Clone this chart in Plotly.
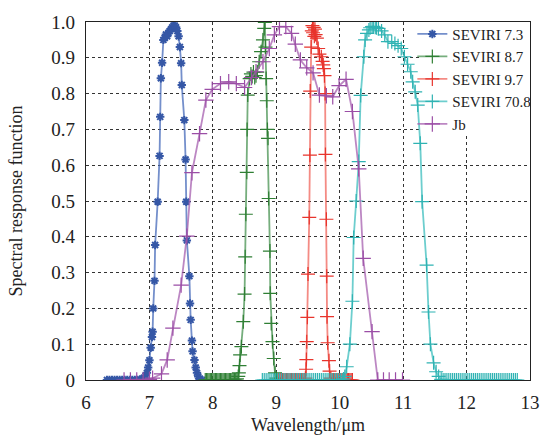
import plotly.graph_objects as go

# Spectral response functions: SEVIRI channels and the Jb band
x_73 = [6.33, 6.37, 6.41, 6.45, 6.49, 6.53, 6.57, 6.61, 6.65, 6.69, 6.73, 6.77, 6.81, 6.85,
        6.88, 6.91, 6.94, 6.96, 6.98, 7.00, 7.02, 7.04, 7.05, 7.06, 7.08, 7.09, 7.13, 7.16,
        7.17, 7.18, 7.20, 7.22, 7.24, 7.26, 7.28, 7.30, 7.32, 7.34, 7.36, 7.38, 7.40, 7.42,
        7.44, 7.46, 7.48, 7.50, 7.51, 7.55, 7.57, 7.58, 7.59, 7.63, 7.64, 7.65, 7.67, 7.68,
        7.71, 7.73, 7.75, 7.77, 7.80, 7.83]
y_73 = [0, 0, 0, 0, 0, 0, 0, 0, 0, 0, 0, 0, 0, 0.001,
        0.003, 0.006, 0.012, 0.02, 0.035, 0.055, 0.09, 0.12, 0.135, 0.2, 0.277, 0.377, 0.498, 0.626,
        0.735, 0.843, 0.886, 0.95, 0.955, 0.965, 0.96, 0.97, 0.975, 0.98, 0.985, 0.99, 0.99, 0.985,
        0.975, 0.96, 0.93, 0.885, 0.824, 0.726, 0.616, 0.498, 0.39, 0.29, 0.214, 0.168, 0.11, 0.08,
        0.056, 0.035, 0.02, 0.01, 0.003, 0]

x_87 = [7.88, 7.90, 7.92, 7.94, 7.96, 7.98, 8.00, 8.02, 8.04, 8.06, 8.08, 8.10, 8.12, 8.14,
        8.16, 8.18, 8.20, 8.22, 8.24, 8.26, 8.28, 8.30, 8.32, 8.34, 8.36, 8.38, 8.40, 8.41,
        8.42, 8.43, 8.45, 8.48, 8.50, 8.51, 8.52, 8.535, 8.54, 8.55, 8.58, 8.60, 8.62, 8.64,
        8.66, 8.68, 8.70, 8.73, 8.76, 8.79, 8.81, 8.82, 8.83, 8.84, 8.85, 8.86, 8.87, 8.88,
        8.90, 8.905, 8.92, 8.94, 8.96, 8.98, 9.00, 9.02]
y_87 = [0, 0, 0, 0, 0, 0, 0, 0, 0, 0, 0, 0, 0, 0,
        0, 0, 0, 0, 0, 0, 0, 0, 0, 0, 0, 0.003, 0.01, 0.02,
        0.04, 0.07, 0.093, 0.163, 0.24, 0.344, 0.463, 0.58, 0.70, 0.796, 0.842, 0.855, 0.848, 0.86,
        0.845, 0.85, 0.86, 0.889, 0.917, 0.95, 0.982, 0.999, 0.93, 0.842, 0.78, 0.70, 0.675, 0.507,
        0.36, 0.242, 0.158, 0.107, 0.06, 0.02, 0.005, 0]

x_97 = [9.04, 9.06, 9.08, 9.10, 9.12, 9.14, 9.16, 9.18, 9.20, 9.22, 9.24, 9.26, 9.28, 9.30,
        9.32, 9.34, 9.36, 9.38, 9.40, 9.42, 9.44, 9.46, 9.47, 9.475, 9.48, 9.49, 9.50, 9.52,
        9.53, 9.535, 9.55, 9.56, 9.57, 9.58, 9.59, 9.60, 9.61, 9.62, 9.64, 9.66, 9.68, 9.71,
        9.73, 9.74, 9.75, 9.76, 9.77, 9.775, 9.79, 9.795, 9.80, 9.81, 9.83, 9.84, 9.86, 9.88,
        9.90, 9.92, 9.94, 9.96, 9.98, 10.00, 10.02, 10.04, 10.06, 10.08, 10.10, 10.12, 10.14,
        10.16, 10.18, 10.20]
y_97 = [0, 0, 0, 0, 0, 0, 0, 0, 0, 0, 0, 0, 0, 0,
        0, 0, 0, 0, 0, 0, 0, 0.005, 0.03, 0.057, 0.107, 0.175, 0.296, 0.454,
        0.628, 0.807, 0.93, 0.975, 0.99, 0.97, 0.985, 0.96, 0.98, 0.965, 0.955, 0.926, 0.91, 0.903,
        0.89, 0.88, 0.87, 0.85, 0.80, 0.63, 0.449, 0.29, 0.177, 0.104, 0.054, 0.025, 0.005, 0,
        0, 0, 0, 0, 0, 0, 0, 0, 0, 0, 0, 0, 0,
        0, 0, 0]

x_708 = [8.78, 8.81, 8.84, 8.87, 8.90, 8.93, 8.96, 8.99, 9.02, 9.05, 9.08, 9.11, 9.14, 9.17,
         9.20, 9.23, 9.26, 9.29, 9.32, 9.35, 9.38, 9.41, 9.44, 9.47, 9.50, 9.53, 9.56, 9.59,
         9.62, 9.65, 9.68, 9.71, 9.74, 9.77, 9.80, 9.83, 9.86, 9.89, 9.92, 9.95, 9.98, 10.01,
         10.04, 10.06, 10.08, 10.11, 10.16, 10.20, 10.22, 10.26, 10.30, 10.33, 10.38, 10.40,
         10.43, 10.46, 10.48, 10.51, 10.53, 10.56, 10.58, 10.61, 10.66, 10.71, 10.76, 10.82,
         10.87, 10.92, 10.97, 11.02, 11.07, 11.12, 11.15, 11.19, 11.23, 11.27, 11.30, 11.37,
         11.40, 11.43, 11.48, 11.52, 11.56, 11.60, 11.63, 11.66, 11.69, 11.72, 11.75, 11.78,
         11.81, 11.84, 11.87, 11.90, 11.93, 11.96, 11.99, 12.02, 12.05, 12.08, 12.11, 12.14,
         12.17, 12.20, 12.23, 12.26, 12.29, 12.32, 12.35, 12.38, 12.41, 12.44, 12.47, 12.50,
         12.53, 12.56, 12.59, 12.62, 12.65, 12.68, 12.71, 12.74, 12.77, 12.80]
y_708 = [0, 0, 0, 0, 0, 0, 0, 0, 0, 0, 0, 0, 0, 0,
         0, 0, 0, 0, 0, 0, 0, 0, 0, 0, 0, 0, 0, 0,
         0, 0, 0, 0, 0, 0, 0, 0, 0, 0, 0, 0, 0, 0,
         0, 0.003, 0.01, 0.037, 0.10, 0.22, 0.398, 0.50, 0.61, 0.795, 0.903, 0.95,
         0.968, 0.978, 0.984, 0.987, 0.988, 0.985, 0.984, 0.982, 0.975, 0.964, 0.945, 0.945,
         0.94, 0.934, 0.926, 0.903, 0.882, 0.861, 0.833, 0.805, 0.768, 0.661, 0.498, 0.321,
         0.19, 0.10, 0.048, 0.023, 0.01, 0.002, 0, 0, 0, 0, 0, 0,
         0, 0, 0, 0, 0, 0, 0, 0, 0, 0, 0, 0,
         0, 0, 0, 0, 0, 0, 0, 0, 0, 0, 0, 0,
         0, 0, 0, 0, 0, 0, 0, 0, 0, 0]

x_jb = [6.60, 6.70, 6.80, 6.90, 7.00, 7.05, 7.19, 7.28, 7.37, 7.50, 7.59, 7.67, 7.79, 7.89,
        7.99, 8.12, 8.25, 8.37, 8.50, 8.61, 8.68, 8.79, 8.89, 8.97, 9.05, 9.15, 9.24, 9.30,
        9.38, 9.48, 9.58, 9.68, 9.79, 9.89, 9.99, 10.10, 10.20, 10.30, 10.37, 10.51, 10.60,
        10.69, 10.78, 10.88, 10.99]
y_jb = [0, 0, 0, 0, 0.002, 0.005, 0.017, 0.056, 0.145, 0.265, 0.402, 0.579, 0.688, 0.782,
        0.812, 0.828, 0.833, 0.828, 0.817, 0.845, 0.861, 0.889, 0.926, 0.964, 0.987, 0.987, 0.968, 0.938,
        0.894, 0.872, 0.858, 0.796, 0.794, 0.791, 0.822, 0.84, 0.75, 0.59, 0.34, 0.135, 0,
        0, 0, 0, 0]

series = [
    ("SEVIRI 7.3", x_73, y_73, "#3557a6", "rgba(70,105,185,0.75)", "asterisk-open", 7, 2),
    ("SEVIRI 8.7", x_87, y_87, "#2f7f34", "rgba(60,140,70,0.7)", "cross-thin-open", 10, 1.2),
    ("SEVIRI 9.7", x_97, y_97, "#e8342c", "rgba(240,90,80,0.7)", "cross-thin-open", 10, 1.2),
    ("SEVIRI 70.8", x_708, y_708, "#2fb3b3", "rgba(60,190,190,0.75)", "cross-thin-open", 10, 1.2),
    ("Jb", x_jb, y_jb, "#9b4ea6", "rgba(165,95,175,0.75)", "cross-thin-open", 11, 1.2),
]

fig = go.Figure()
for name, xs, ys, mcol, lcol, sym, size, mw in series:
    fig.add_trace(go.Scatter(
        x=xs, y=ys, name=name, mode="lines+markers",
        line=dict(color=lcol, width=1.8),
        marker=dict(symbol=sym, size=size, color=mcol, line=dict(color=mcol, width=mw)),
    ))

font = "Liberation Serif"
ytick_vals = [0, 0.1, 0.2, 0.3, 0.4, 0.5, 0.6, 0.7, 0.8, 0.9, 1.0]
ytick_text = ["0", "0.1", "0.2", "0.3", "0.4", "0.5", "0.6", "0.7", "0.8", "0.9", "1.0"]
xtick_vals = [6, 7, 8, 9, 10, 11, 12, 13]

grid = dict(showgrid=True, gridcolor="#333333", gridwidth=1, griddash="3px,3px")

# white panel behind the legend: covers the grid there, curves stay on top
fig.add_shape(type="rect", xref="x", yref="y", x0=11.26, x1=13.0, y0=0.685, y1=1.0,
              fillcolor="white", line=dict(width=0), layer="between")

fig.update_layout(
    width=551, height=445,
    margin=dict(l=86, r=11, t=22, b=65),
    paper_bgcolor="white", plot_bgcolor="white",
    font=dict(family=font, size=19, color="#222222"),
    showlegend=True,
    legend=dict(x=0.735, y=1.012, xanchor="left", yanchor="top",
                bgcolor="rgba(0,0,0,0)", borderwidth=0,
                font=dict(family=font, size=15, color="#222222"),
                tracegroupgap=0, itemwidth=30),
    xaxis=dict(range=[6, 13], tickvals=xtick_vals, ticks="", showline=True,
               linecolor="#222222", linewidth=1.2, mirror=True, zeroline=False,
               ticklabelstandoff=5,
               title=dict(text="Wavelength/μm", font=dict(family=font, size=18), standoff=6),
               **grid),
    yaxis=dict(range=[0, 1.0], tickvals=ytick_vals, ticktext=ytick_text, ticks="",
               showline=True, linecolor="#222222", linewidth=1.2, mirror=True, zeroline=False,
               ticklabelstandoff=6,
               title=dict(text="Spectral response function", font=dict(family=font, size=18),
                          standoff=24),
               **grid),
)

fig.write_html("out.html")
